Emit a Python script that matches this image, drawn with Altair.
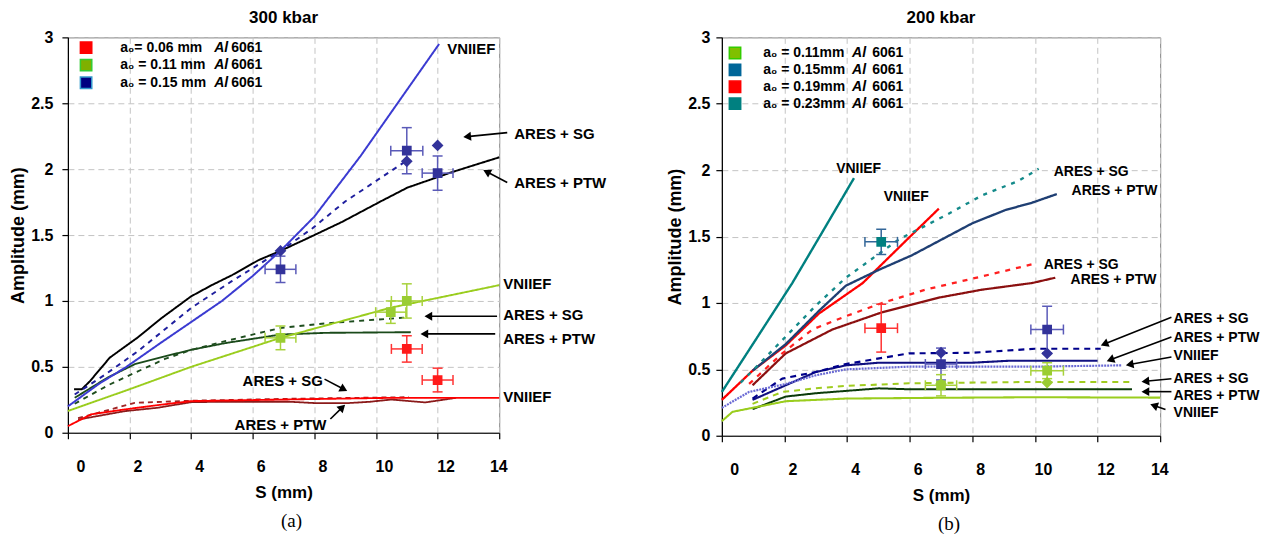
import math
import altair as alt
import pandas as pd

FONT = "Liberation Sans"
SERIF = "Liberation Serif"

# ======================= Panel (a) : 300 kbar =======================
# a0 = 0.15 mm
A015_VN_S = [0, 1.0, 1.9, 3.0, 4.0, 5.0, 6.0, 6.9, 8.0, 9.5, 10.7, 12.05]
A015_VN_A = [0.20, 0.37, 0.50, 0.68, 0.84, 1.00, 1.19, 1.38, 1.64, 2.10, 2.50, 2.95]
A015_SG_S = [0.22, 1.2, 2.28, 4.02, 5.32, 6.9, 7.93, 9.0, 10.0, 10.9]
A015_SG_A = [0.29, 0.44, 0.62, 0.95, 1.15, 1.38, 1.55, 1.755, 1.91, 2.05]
A015_PTW_S = [0.2, 0.45, 0.71, 1.36, 2.25, 3.04, 4.0, 4.67, 5.32, 6.19, 6.9, 7.82, 8.9, 10.15, 11.02, 12.5, 14.0]
A015_PTW_A = [0.33, 0.33, 0.39, 0.57, 0.72, 0.87, 1.035, 1.12, 1.195, 1.31, 1.38, 1.48, 1.60, 1.755, 1.86, 1.98, 2.09]
# a0 = 0.11 mm
A011_VN_S = [0, 2, 4, 6.9, 10.5, 14]
A011_VN_A = [0.165, 0.33, 0.50, 0.72, 0.95, 1.12]
A011_SG_S = [0.22, 1.3, 2.17, 3.15, 4.02, 5.1, 6.9, 8.36, 11.0]
A011_SG_A = [0.22, 0.36, 0.455, 0.56, 0.63, 0.695, 0.795, 0.83, 0.875]
A011_PTW_S = [0.22, 1.3, 2.17, 3.15, 4.02, 5.1, 6.9, 8.36, 11.13]
A011_PTW_A = [0.265, 0.42, 0.52, 0.58, 0.63, 0.68, 0.745, 0.758, 0.763]
# a0 = 0.06 mm
A006_VN_S = [0, 0.76, 1.85, 2.93, 4.0, 7.27, 10.5, 14]
A006_VN_A = [0.05, 0.14, 0.177, 0.21, 0.24, 0.253, 0.265, 0.265]
A006_SG_S = [0.33, 2.17, 4.0, 7.27, 11.07]
A006_SG_A = [0.11, 0.227, 0.243, 0.258, 0.27]
A006_PTW_S = [0.33, 1.85, 2.93, 4.02, 6.19, 7.2, 8.03, 9.1, 9.8, 10.5, 11.6, 12.6]
A006_PTW_A = [0.10, 0.164, 0.19, 0.233, 0.235, 0.235, 0.225, 0.225, 0.235, 0.252, 0.23, 0.265]

# experiments (squares with error bars) and diamonds
PA_SQ_SET = ["0.15", "0.15", "0.15", "0.11", "0.11", "0.11", "0.06", "0.06"]
PA_SQ_S = [6.9, 11.0, 12.0, 6.9, 10.48, 11.0, 11.0, 12.0]
PA_SQ_A = [1.24, 2.14, 1.97, 0.72, 0.915, 1.0, 0.636, 0.40]
PA_SQ_DS = [0.5, 0.52, 0.5, 0.5, 0.49, 0.5, 0.5, 0.5]
PA_SQ_DA = [0.10, 0.175, 0.13, 0.09, 0.085, 0.13, 0.10, 0.09]
PA_DI_SET = ["0.15", "0.15", "0.15"]
PA_DI_S = [6.9, 11.0, 12.0]
PA_DI_A = [1.38, 2.06, 2.18]

PA_LEG_PART1 = ["a\u2080= 0.06 mm", "a\u2080 = 0.11 mm", "a\u2080 = 0.15 mm"]
PA_LEG_SET = ["0.06", "0.11", "0.15"]

PA_ANN_TEXT = ["VNIIEF", "ARES + SG", "ARES + PTW", "VNIIEF", "ARES + SG",
               "ARES + PTW", "VNIIEF", "ARES + SG", "ARES + PTW"]

# ======================= Panel (b) : 200 kbar =======================
B023_VN_S = [0, 1.1, 2.25, 3.2, 4.22]
B023_VN_A = [0.33, 0.73, 1.15, 1.53, 1.94]
B023_SG_S = [0.6, 1.19, 3.0, 3.96, 5.66, 7.15, 8.31, 9.48, 10.12]
B023_SG_A = [0.40, 0.54, 0.98, 1.19, 1.48, 1.66, 1.81, 1.92, 2.01]
B023_PTW_S = [0.98, 2.04, 3.1, 3.96, 5.02, 6.08, 7.04, 8.0, 9.06, 9.91, 10.7]
B023_PTW_A = [0.49, 0.69, 0.94, 1.13, 1.25, 1.36, 1.48, 1.60, 1.70, 1.755, 1.82]
B019_VN_S = [0, 0.98, 2.04, 3.1, 4.5, 5.97, 6.93]
B019_VN_A = [0.27, 0.49, 0.68, 0.92, 1.15, 1.49, 1.71]
B019_SG_S = [0.87, 1.93, 2.89, 3.96, 5.12, 6.5, 8.31, 10.07]
B019_SG_A = [0.39, 0.62, 0.80, 0.90, 1.0, 1.10, 1.20, 1.30]
B019_PTW_S = [0.98, 2.04, 3.53, 5.12, 6.93, 8.31, 9.91, 10.65]
B019_PTW_A = [0.38, 0.62, 0.80, 0.93, 1.04, 1.10, 1.15, 1.19]
B015_VN_S = [0, 0.87, 2.04, 3.0, 3.96, 5.97, 9.9, 12.78]
B015_VN_A = [0.21, 0.33, 0.39, 0.455, 0.50, 0.52, 0.52, 0.53]
B015_SG_S = [0.98, 1.93, 3.0, 3.96, 5.97, 8.0, 10.0, 12.1]
B015_SG_A = [0.28, 0.43, 0.48, 0.54, 0.62, 0.625, 0.655, 0.655]
B015_PTW_S = [0.98, 2.04, 3.0, 3.96, 5.02, 8.0, 9.2, 12.0]
B015_PTW_A = [0.27, 0.38, 0.48, 0.53, 0.55, 0.55, 0.565, 0.565]
B011_VN_S = [0, 0.34, 1.19, 2.04, 3.96, 6.5, 9.9, 14]
B011_VN_A = [0.11, 0.18, 0.22, 0.26, 0.28, 0.285, 0.29, 0.287]
B011_SG_S = [0.98, 1.93, 3.0, 3.96, 5.97, 9.9, 13.1]
B011_SG_A = [0.24, 0.33, 0.357, 0.375, 0.395, 0.405, 0.405]
B011_PTW_S = [0.98, 2.04, 3.0, 5.02, 5.97, 9.9, 13.1]
B011_PTW_A = [0.20, 0.295, 0.32, 0.357, 0.35, 0.35, 0.35]

PB_SQ_SET = ["0.23", "0.19", "0.15", "0.15", "0.11", "0.11"]
PB_SQ_S = [5.09, 5.09, 7.0, 10.39, 7.0, 10.39]
PB_SQ_A = [1.46, 0.81, 0.54, 0.80, 0.38, 0.49]
PB_SQ_DS = [0.52, 0.52, 0.5, 0.52, 0.5, 0.52]
PB_SQ_DA = [0.095, 0.18, 0.12, 0.175, 0.08, 0.06]
PB_DI_SET = ["0.15", "0.15", "0.11", "0.11"]
PB_DI_S = [7.0, 10.39, 7.0, 10.39]
PB_DI_A = [0.625, 0.62, 0.39, 0.40]

PB_LEG_PART1 = ["a\u2080 = 0.11mm", "a\u2080 = 0.15mm", "a\u2080 = 0.19mm", "a\u2080 = 0.23mm"]
PB_LEG_SET = ["0.11", "0.15", "0.19", "0.23"]

PB_ANN_TEXT = ["VNIIEF", "VNIIEF", "ARES + SG", "ARES + PTW", "ARES + SG", "ARES + PTW",
               "ARES + SG", "ARES + PTW", "VNIIEF", "ARES + SG", "ARES + PTW", "VNIIEF"]

# ======================= styles / layout (not data) =======================
A_STYLE = {
    "a006_ptw": ("#8b1a1a", [1, 0], 1.8),
    "a006_sg": ("#a02525", [5, 4], 2.0),
    "a006_vn": ("#ff0000", [1, 0], 2.2),
    "a011_ptw": ("#1a4a1a", [1, 0], 2.0),
    "a011_sg": ("#1e4d1e", [5, 5], 2.0),
    "a011_vn": ("#9acd1e", [1, 0], 2.2),
    "a015_ptw": ("#000000", [1, 0], 2.0),
    "a015_sg": ("#1f1f9e", [5, 5], 1.8),
    "a015_vn": ("#3b3bd1", [1, 0], 1.3),
}
A_LINES = {
    "a006_ptw": (A006_PTW_S, A006_PTW_A), "a006_sg": (A006_SG_S, A006_SG_A),
    "a006_vn": (A006_VN_S, A006_VN_A), "a011_ptw": (A011_PTW_S, A011_PTW_A),
    "a011_sg": (A011_SG_S, A011_SG_A), "a011_vn": (A011_VN_S, A011_VN_A),
    "a015_ptw": (A015_PTW_S, A015_PTW_A), "a015_sg": (A015_SG_S, A015_SG_A),
    "a015_vn": (A015_VN_S, A015_VN_A),
}
B_STYLE = {
    "b011_ptw": ("#0a3a0a", [1, 0], 2.0),
    "b011_sg": ("#a0cc20", [6, 5], 2.4),
    "b011_vn": ("#9acd1e", [1, 0], 2.4),
    "b015_ptw": ("#101080", [1, 0], 2.0),
    "b015_sg": ("#00008b", [6, 5], 2.4),
    "b015_vn": ("#6a6ad4", [2, 1], 1.8),
    "b019_ptw": ("#8b1010", [1, 0], 1.8),
    "b019_sg": ("#ff2020", [5, 6], 2.0),
    "b019_vn": ("#ff0000", [1, 0], 2.2),
    "b023_ptw": ("#1f3f73", [1, 0], 1.8),
    "b023_sg": ("#148a8a", [4, 6], 2.0),
    "b023_vn": ("#008080", [1, 0], 2.2),
}
B_LINES = {
    "b011_ptw": (B011_PTW_S, B011_PTW_A), "b011_sg": (B011_SG_S, B011_SG_A),
    "b011_vn": (B011_VN_S, B011_VN_A), "b015_ptw": (B015_PTW_S, B015_PTW_A),
    "b015_sg": (B015_SG_S, B015_SG_A), "b015_vn": (B015_VN_S, B015_VN_A),
    "b019_ptw": (B019_PTW_S, B019_PTW_A), "b019_sg": (B019_SG_S, B019_SG_A),
    "b019_vn": (B019_VN_S, B019_VN_A), "b023_ptw": (B023_PTW_S, B023_PTW_A),
    "b023_sg": (B023_SG_S, B023_SG_A), "b023_vn": (B023_VN_S, B023_VN_A),
}
POINT_COL = {"0.06": ("#ff1a1a", "#ff3333"), "0.11": ("#9acd32", "#a8d23c"),
             "0.15": ("#33339a", "#5a5ab8"), "0.19": ("#ff1a1a", "#ff3333"),
             "0.23": ("#008080", "#336699")}
LEG_COL_A = {"0.06": ("#ff0000", "#ff0000"), "0.11": ("#7fb000", "#33cc33"),
             "0.15": ("#000080", "#3399cc")}
LEG_COL_B = {"0.11": ("#80c000", "#33cc00"), "0.15": ("#006699", "#006699"),
             "0.19": ("#ff0000", "#ff0000"), "0.23": ("#008080", "#008080")}

# annotation anchors (S, A) for label text and arrows (tail -> head)
PA_ANN_POS = [(12.31, 2.914), (14.49, 2.263), (14.49, 1.892), (14.13, 1.127), (14.13, 0.892),
              (14.13, 0.71), (14.13, 0.27), (5.67, 0.392), (5.41, 0.058)]
PA_ARROWS = [(14.26, 2.277, 12.83, 2.244), (14.26, 1.899, 13.48, 1.994),
             (13.93, 0.884, 11.57, 0.884), (13.87, 0.75, 11.44, 0.75),
             (8.33, 0.407, 9.07, 0.316), (8.52, 0.104, 9.0, 0.214)]
PB_ANN_POS = [(3.65, 2.011), (5.17, 1.80), (10.6, 1.989), (11.17, 1.84), (10.28, 1.287),
              (11.14, 1.175), (14.43, 0.877), (14.43, 0.735), (14.43, 0.60), (14.43, 0.429),
              (14.43, 0.302), (14.43, 0.168)]
PB_ARROWS = [(14.36, 0.892, 12.1, 0.68), (14.36, 0.743, 12.29, 0.561),
             (14.36, 0.593, 12.9, 0.531), (14.36, 0.429, 13.4, 0.407),
             (14.36, 0.332, 13.4, 0.332), (14.17, 0.198, 13.68, 0.237)]

X_TICKS = [0, 2, 4, 6, 8, 10, 12, 14]
Y_TICKS = [0, 0.5, 1, 1.5, 2, 2.5, 3]


def build_panel(title, caption, W, H, lines, style, sq, di, leg, ann, arrows,
                ann_size, y_label_pad):
    pxS = W / 14.0
    pxA = H / 3.0
    xs = alt.Scale(domain=[0, 14], nice=False, zero=False)
    ys = alt.Scale(domain=[0, 3], nice=False)
    x_axis = alt.Axis(values=X_TICKS, title="S (mm)", labelPadding=20, titlePadding=10,
                      labelOffset=8)
    y_axis = alt.Axis(values=Y_TICKS, format="~g", title="Amplitude (mm)",
                      labelPadding=y_label_pad, titlePadding=3, titleFontSize=18)

    def X(f="S", axis=False):
        if axis:
            return alt.X(f"{f}:Q", scale=xs, axis=x_axis)
        return alt.X(f"{f}:Q", scale=xs)

    def Y(f="A", axis=False):
        if axis:
            return alt.Y(f"{f}:Q", scale=ys, axis=y_axis)
        return alt.Y(f"{f}:Q", scale=ys)

    keys = list(style)
    rows = [{"key": k, "S": s, "A": a} for k, (xv, yv) in lines.items() for s, a in zip(xv, yv)]
    ldf = pd.DataFrame(rows)
    line_layer = alt.Chart(ldf).mark_line(clip=False, strokeJoin="round").encode(
        x=X(axis=True), y=Y(axis=True), detail="key:N",
        color=alt.Color("key:N", scale=alt.Scale(domain=keys, range=[style[k][0] for k in keys]), legend=None),
        strokeDash=alt.StrokeDash("key:N", scale=alt.Scale(domain=keys, range=[style[k][1] for k in keys]), legend=None),
        strokeWidth=alt.StrokeWidth("key:N", scale=alt.Scale(domain=keys, range=[style[k][2] for k in keys]), legend=None),
    )

    # error bars
    sets, S, A, dS, dA = sq
    cap_s = 5 / pxS
    cap_a = 5 / pxA
    eb = []
    for st, s, a, ds, da in zip(sets, S, A, dS, dA):
        c = POINT_COL[st][1]
        eb.append({"x1": s, "x2": s, "y1": a - da, "y2": a + da, "c": c})
        eb.append({"x1": s - ds, "x2": s + ds, "y1": a, "y2": a, "c": c})
        eb.append({"x1": s - cap_s, "x2": s + cap_s, "y1": a - da, "y2": a - da, "c": c})
        eb.append({"x1": s - cap_s, "x2": s + cap_s, "y1": a + da, "y2": a + da, "c": c})
        eb.append({"x1": s - ds, "x2": s - ds, "y1": a - cap_a, "y2": a + cap_a, "c": c})
        eb.append({"x1": s + ds, "x2": s + ds, "y1": a - cap_a, "y2": a + cap_a, "c": c})
    eb_layer = alt.Chart(pd.DataFrame(eb)).mark_rule(strokeWidth=1.5).encode(
        x=X("x1"), x2="x2:Q", y=Y("y1"), y2="y2:Q",
        stroke=alt.Stroke("c:N", scale=None))
    sqdf = pd.DataFrame({"S": S, "A": A, "c": [POINT_COL[s][0] for s in sets]})
    sq_layer = alt.Chart(sqdf).mark_point(shape="square", filled=True, size=60, opacity=1).encode(
        x=X(), y=Y(), fill=alt.Fill("c:N", scale=None), stroke=alt.Stroke("c:N", scale=None))
    dsets, dS_, dA_ = di
    didf = pd.DataFrame({"S": dS_, "A": dA_, "c": [POINT_COL[s][0] for s in dsets]})
    di_layer = alt.Chart(didf).mark_point(shape="diamond", filled=True, size=80, opacity=1).encode(
        x=X(), y=Y(), fill=alt.Fill("c:N", scale=None), stroke=alt.Stroke("c:N", scale=None))

    # annotation labels
    texts, pos = ann
    adf = pd.DataFrame({"t": texts, "S": [p[0] for p in pos], "A": [p[1] for p in pos]})
    ann_layer = alt.Chart(adf).mark_text(align="left", baseline="middle", font=FONT,
                                         fontSize=ann_size, fontWeight="bold", color="black").encode(
        x=X(), y=Y(), text="t:N")

    # arrows
    ar_lines, ar_heads = [], []
    for (ts, ta, hs, ha) in arrows:
        dxp = (hs - ts) * pxS
        dyp = -(ha - ta) * pxA
        L = math.hypot(dxp, dyp)
        ang = math.degrees(math.atan2(dxp, -dyp)) % 360
        back = 4.0
        cs = hs - dxp / L * back / pxS
        ca = ha + dyp / L * back / pxA
        ar_lines.append({"x1": ts, "y1": ta, "x2": cs, "y2": ca})
        ar_heads.append({"S": cs, "A": ca, "ang": ang})
    arl_layer = alt.Chart(pd.DataFrame(ar_lines)).mark_rule(color="black", strokeWidth=1.6).encode(
        x=X("x1"), x2="x2:Q", y=Y("y1"), y2="y2:Q")
    arh_layer = alt.Chart(pd.DataFrame(ar_heads)).mark_point(
        shape="triangle-up", filled=True, size=80, color="black", opacity=1).encode(
        x=X(), y=Y(), angle=alt.Angle("ang:Q", scale=None))

    # legend drawn inside the plot
    lparts, lsets, lcol, l_x, l_y0, l_dy, l_tx, l_al, l_num = leg
    n = len(lparts)
    legdf = pd.DataFrame({
        "S": [l_x] * n,
        "A": [l_y0 - i * l_dy for i in range(n)],
        "f": [lcol[s][0] for s in lsets],
        "st": [lcol[s][1] for s in lsets],
        "p1": lparts, "p2": ["Al"] * n, "p3": ["6061"] * n,
        "x1": [l_tx] * n, "x2": [l_al] * n, "x3": [l_num] * n,
    })
    leg_sq = alt.Chart(legdf).mark_point(shape="square", filled=True, size=130, strokeWidth=1.5,
                                         opacity=1).encode(
        x=X(), y=Y(), fill=alt.Fill("f:N", scale=None), stroke=alt.Stroke("st:N", scale=None))
    leg_t1 = alt.Chart(legdf).mark_text(align="left", baseline="middle", font=FONT, fontSize=14,
                                        fontWeight="bold", color="black").encode(
        x=X("x1"), y=Y(), text="p1:N")
    leg_t2 = alt.Chart(legdf).mark_text(align="left", baseline="middle", font=FONT, fontSize=14,
                                        fontWeight="bold", fontStyle="italic", color="black").encode(
        x=X("x2"), y=Y(), text="p2:N")
    leg_t3 = alt.Chart(legdf).mark_text(align="left", baseline="middle", font=FONT, fontSize=14,
                                        fontWeight="bold", color="black").encode(
        x=X("x3"), y=Y(), text="p3:N")

    cap_layer = alt.Chart(pd.DataFrame({"t": [caption]})).mark_text(
        font=SERIF, fontSize=19, color="black", baseline="middle", align="center").encode(
        text="t:N", x=alt.value(W / 2 + 8), y=alt.value(H + 88))

    return alt.layer(line_layer, eb_layer, sq_layer, di_layer, arl_layer, arh_layer, ann_layer,
                     leg_sq, leg_t1, leg_t2, leg_t3, cap_layer).properties(
        width=W, height=H,
        title=alt.TitleParams(title, font=FONT, fontSize=17, fontWeight="bold", anchor="middle",
                              frame="group", offset=2, color="black"))


WA, HA = 432, 396
WB, HB = 439, 399

pa = build_panel(
    "300 kbar", "(a)", WA, HA, A_LINES, A_STYLE,
    (PA_SQ_SET, PA_SQ_S, PA_SQ_A, PA_SQ_DS, PA_SQ_DA), (PA_DI_SET, PA_DI_S, PA_DI_A),
    (PA_LEG_PART1, PA_LEG_SET, LEG_COL_A, 0.59, 2.922, 0.133, 1.7, 4.75, 5.3),
    (PA_ANN_TEXT, PA_ANN_POS), PA_ARROWS, 15, 9)
pb = build_panel(
    "200 kbar", "(b)", WB, HB, B_LINES, B_STYLE,
    (PB_SQ_SET, PB_SQ_S, PB_SQ_A, PB_SQ_DS, PB_SQ_DA), (PB_DI_SET, PB_DI_S, PB_DI_A),
    (PB_LEG_PART1, PB_LEG_SET, LEG_COL_B, 0.42, 2.882, 0.127, 1.32, 4.16, 4.8),
    (PB_ANN_TEXT, PB_ANN_POS), PB_ARROWS, 14, 6)

chart = alt.hconcat(pa, pb, spacing=223, bounds="flush").resolve_scale(
    color="independent", strokeDash="independent", strokeWidth="independent",
    x="independent", y="independent"
).properties(
    padding={"left": 1, "top": 0, "right": 0, "bottom": 0}, background="white"
).configure_view(stroke="#808080", strokeWidth=1).configure_axis(
    labelFont=FONT, labelFontSize=16, labelFontWeight="bold", labelColor="black",
    titleFont=FONT, titleFontSize=17, titleFontWeight="bold", titleColor="black",
    gridDash=[6, 4], gridColor="#c4c4c4", gridWidth=1,
    domainColor="black", domainWidth=1.2, tickColor="black", tickSize=6, tickWidth=1.2,
)

chart.save("out.html", embed_options={"renderer": "svg", "actions": False})
